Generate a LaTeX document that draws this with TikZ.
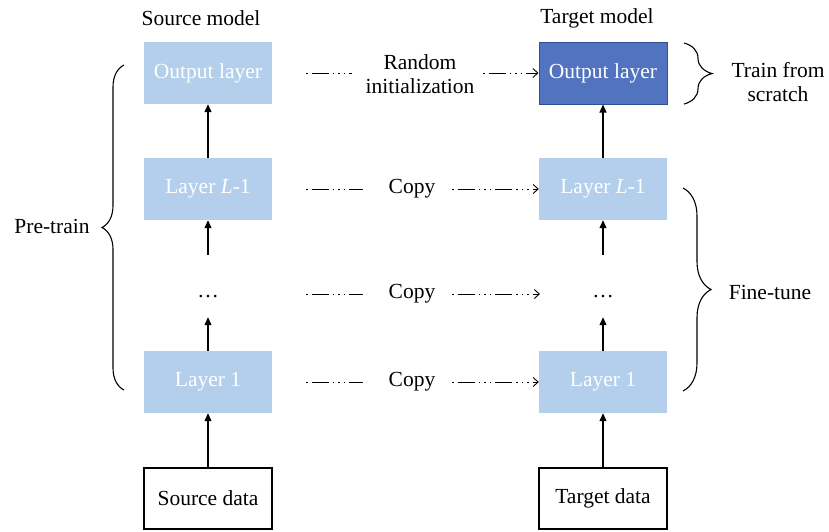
\documentclass[tikz,border=0pt]{standalone}
\usepackage{fontspec}
\setmainfont{Liberation Serif}
\usetikzlibrary{arrows.meta,decorations.pathreplacing}
\definecolor{lightblue}{HTML}{B4CFEC}
\definecolor{darkblue}{HTML}{5273BF}
\definecolor{darkedge}{HTML}{2F4F8F}
\begin{document}
\begin{tikzpicture}[x=1pt,y=-1pt, font=\fontsize{21.5}{23.5}\selectfont,
 layerbox/.style={fill=lightblue, text=white, minimum width=128pt, minimum height=62pt, inner sep=0pt},
 outbox/.style={fill=darkblue, draw=darkedge, line width=1pt, text=white, minimum width=128pt, minimum height=62pt, inner sep=0pt},
 databox/.style={draw=black, line width=1.1pt, minimum width=128pt, minimum height=61pt, inner sep=0pt},
 dotsbox/.style={anchor=base, text height=42.5pt, text depth=19.5pt, inner sep=0pt, minimum width=128pt},
 uparrow/.style={-{Triangle[length=8pt,width=7pt]}, line width=1.1pt},
 dashconn/.style={line width=0.9pt, dash pattern=on 1.5pt off 4pt on 17pt off 4pt on 1.5pt off 4pt on 1.5pt off 4pt},
 dasharrow/.style={dashconn, -{Straight Barb[length=5pt,width=9pt]}},
 bracestyle/.style={decorate, decoration={brace, amplitude=#1}, line width=1.1pt}
]
\path[use as bounding box] (0,0) rectangle (829,531);

% source column
\node[layerbox] (so) at (208,73) {Output layer};
\node[layerbox] (sl) at (208,189) {Layer \textit{L}-1};
\node[dotsbox] (sd) at (208,297.5) {\dots};
\node[layerbox] (s1) at (208,382) {Layer 1};
\node[databox] (sdata) at (208,498.5) {Source data};

% target column
\node[outbox] (to) at (603,73) {Output layer};
\node[layerbox] (tl) at (603,189) {Layer \textit{L}-1};
\node[dotsbox] (td) at (603,297.5) {\dots};
\node[layerbox] (t1) at (603,382) {Layer 1};
\node[databox] (tdata) at (603,498.5) {Target data};

% titles
\node (srcm) at (201,18) {Source model};
\node (tgtm) at (597,18) {Target model};

% vertical arrows
\draw[uparrow] (sdata) -- (s1);
\draw[uparrow] (s1) -- (sd);
\draw[uparrow] (sd) -- (sl);
\draw[uparrow] (sl) -- (so);
\draw[uparrow] (tdata) -- (t1);
\draw[uparrow] (t1) -- (td);
\draw[uparrow] (td) -- (tl);
\draw[uparrow] (tl) -- (to);

% middle labels
\node[align=center] (rand) at (420,74) {Random\\initialization};
\node (c1) at (412,189) {Copy};
\node (c2) at (412,294) {Copy};
\node (c3) at (412,382) {Copy};

% dashed connectors
\coordinate (a0) at (306,73); \coordinate (b0) at (352,73); \coordinate (r0) at (483,73);
\coordinate (a1) at (306,189); \coordinate (b1) at (363,189); \coordinate (r1) at (452,189);
\coordinate (a2) at (306,294); \coordinate (b2) at (363,294); \coordinate (r2) at (452,294);
\coordinate (a3) at (306,382); \coordinate (b3) at (363,382); \coordinate (r3) at (452,382);
\coordinate (e2) at (540,294);

\draw[dashconn] (a0) -- (b0);
\draw[dasharrow] (r0) -- (to.west);
\draw[dashconn] (a1) -- (b1);
\draw[dasharrow] (r1) -- (tl.west);
\draw[dashconn] (a2) -- (b2);
\draw[dasharrow] (r2) -- (e2);
\draw[dashconn] (a3) -- (b3);
\draw[dasharrow] (r3) -- (t1.west);

% braces
\draw[bracestyle=22pt] (124,390) -- (124,65);
\node (pre) at (52,226) {Pre-train};
\draw[bracestyle=28pt] (684,43) -- (684,104);
\node[align=center] (tfs) at (778,82) {Train from\\scratch};
\draw[bracestyle=28pt] (683,188) -- (683,391);
\node (ft) at (770,292) {Fine-tune};
\end{tikzpicture}
\end{document}
